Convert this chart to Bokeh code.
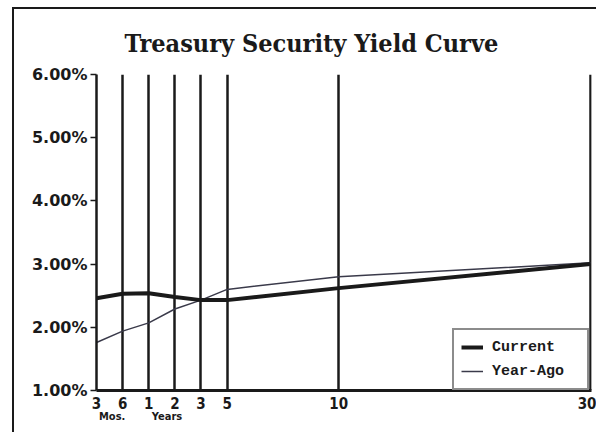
from bokeh.plotting import figure
from bokeh.models import (ColumnDataSource, FixedTicker, LinearAxis, PrintfTickFormatter,
                          Range1d, Legend, LegendItem)
from bokeh.embed import file_html
from bokeh.resources import INLINE

# ---- data ----
title_text = "Treasury Security Yield Curve"
maturities = ["3", "6", "1", "2", "3", "5", "10", "30"]      # tick labels
maturity_pos = [0, 1, 2, 3, 4, 5, 9.27, 18.92]               # axis layout of the maturities
current = [2.46, 2.53, 2.54, 2.48, 2.43, 2.43, 2.62, 3.00]
year_ago = [1.76, 1.94, 2.07, 2.29, 2.43, 2.60, 2.80, 3.02]
unit_labels = ["Mos.", "Years"]
unit_pos = [0.6, 2.7]
y_ticks = [1, 2, 3, 4, 5, 6]

src = ColumnDataSource(dict(x=maturity_pos, cur=current, ago=year_ago))

# figure host is shifted and framed with CSS (outer page box of the scan)
p = figure(width=584, height=425, output_backend="svg", toolbar_location=None,
           x_range=Range1d(0, maturity_pos[-1] + 0.03), y_range=Range1d(1, 6),
           min_border_left=82, min_border_right=7, min_border_top=65, min_border_bottom=44,
           x_axis_location=None, y_axis_location=None)
p.styles = {"border-left": "2.5px solid #1a1a1a", "border-top": "2.5px solid #1a1a1a",
            "margin-left": "12px", "margin-top": "7px"}
p.background_fill_color = "white"
p.border_fill_color = "white"
p.outline_line_color = None

# title
p.title.text = title_text
p.title.text_font = "DejaVu Serif Condensed"
p.title.text_font_style = "bold"
p.title.text_font_size = "25px"
p.title.text_color = "#1a1a1a"
p.title.align = "left"
p.title.offset = 28
p.title.standoff = 33

# y axis
yax = LinearAxis(ticker=FixedTicker(ticks=y_ticks),
                 formatter=PrintfTickFormatter(format="%.2f%%"))
yax.axis_line_color = "#1a1a1a"
yax.axis_line_width = 2.5
yax.major_tick_line_color = "#1a1a1a"
yax.major_tick_line_width = 1.5
yax.major_tick_out = 6
yax.major_tick_in = 0
yax.minor_tick_line_color = None
yax.major_label_standoff = 3
yax.major_label_text_font = "DejaVu Sans"
yax.major_label_text_font_style = "bold"
yax.major_label_text_font_size = "16px"
yax.major_label_text_color = "#1a1a1a"
p.add_layout(yax, "left")

# x axis (maturities)
xax = LinearAxis(ticker=FixedTicker(ticks=maturity_pos),
                 major_label_overrides={pos: lab for pos, lab in zip(maturity_pos, maturities)})
xax.axis_line_color = "#1a1a1a"
xax.axis_line_width = 3
xax.major_tick_line_color = None
xax.minor_tick_line_color = None
xax.major_label_standoff = 0
xax.major_label_text_font = "DejaVu Sans Condensed"
xax.major_label_text_font_style = "bold"
xax.major_label_text_font_size = "15px"
xax.major_label_text_color = "#1a1a1a"
p.add_layout(xax, "below")

# x axis (units)
uax = LinearAxis(ticker=FixedTicker(ticks=unit_pos),
                 major_label_overrides={pos: lab for pos, lab in zip(unit_pos, unit_labels)})
uax.axis_line_color = None
uax.major_tick_line_color = None
uax.minor_tick_line_color = None
uax.major_label_standoff = -8
uax.major_label_text_font = "DejaVu Sans Condensed"
uax.major_label_text_font_style = "bold"
uax.major_label_text_font_size = "11px"
uax.major_label_text_color = "#1a1a1a"
p.add_layout(uax, "below")

# grids
p.xgrid.ticker = FixedTicker(ticks=maturity_pos)
p.xgrid.grid_line_color = "#1a1a1a"
p.xgrid.grid_line_width = 2.5
p.ygrid.ticker = FixedTicker(ticks=[y_ticks[-1]])
p.ygrid.grid_line_color = "#888888"
p.ygrid.grid_line_width = 1
p.ygrid.grid_line_dash = "6 2"

r_ago = p.line("x", "ago", source=src, line_color="#3a3a4a", line_width=1.5)
r_cur = p.line("x", "cur", source=src, line_color="#1a1a1a", line_width=4)

legend = Legend(items=[LegendItem(label="Current", renderers=[r_cur]),
                       LegendItem(label="Year-Ago", renderers=[r_ago])],
                location=(356, 0))
legend.margin = 0
legend.padding = 7
legend.spacing = 4
legend.glyph_width = 22
legend.label_standoff = 9
legend.label_width = 88
legend.border_line_color = "#1a1a1a"
legend.border_line_width = 2
legend.background_fill_color = "white"
legend.background_fill_alpha = 1
legend.label_text_font = "Liberation Mono"
legend.label_text_font_style = "bold"
legend.label_text_font_size = "15px"
legend.label_text_color = "#1a1a1a"
p.add_layout(legend, "center")

open("out.html", "w").write(file_html(p, INLINE))
